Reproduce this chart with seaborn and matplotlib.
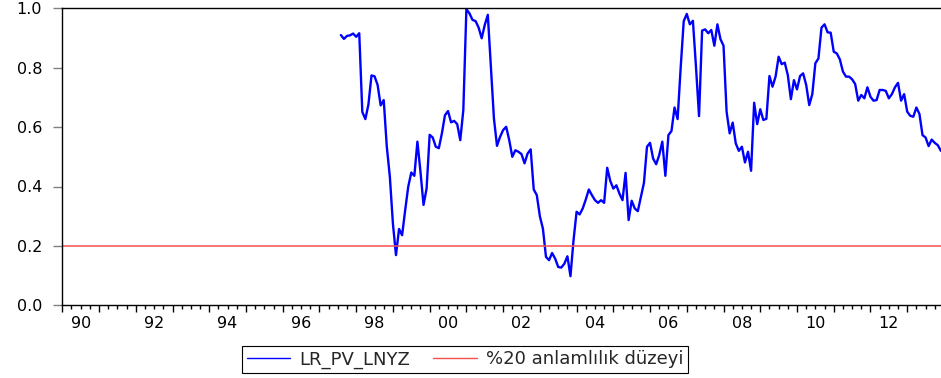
import numpy as np
import pandas as pd
import matplotlib
matplotlib.use("Agg")
import matplotlib.pyplot as plt
import seaborn as sns

# ---- data (monthly, first observation 1997M08) ----
start_year = 1997
start_month = 8
lr_pv_lnyz = [
    0.910, 0.897, 0.907, 0.909, 0.915, 0.904, 0.916,
    0.651, 0.627, 0.676, 0.774, 0.771, 0.742, 0.673, 0.691,
    0.534, 0.433, 0.275, 0.169, 0.257, 0.236, 0.320, 0.399,
    0.447, 0.436, 0.551, 0.450, 0.338, 0.393, 0.574, 0.565,
    0.534, 0.529, 0.579, 0.640, 0.654, 0.616, 0.621, 0.610,
    0.556, 0.657, 0.997, 0.983, 0.961, 0.957, 0.935, 0.899,
    0.944, 0.978,
    0.803, 0.629, 0.537, 0.567, 0.590, 0.601, 0.556, 0.500,
    0.522, 0.517, 0.509, 0.478, 0.511, 0.525, 0.390, 0.371,
    0.300, 0.258, 0.163, 0.152, 0.176, 0.157, 0.129, 0.127,
    0.140, 0.165, 0.098, 0.219, 0.315, 0.306, 0.326, 0.356,
    0.390, 0.371, 0.354, 0.345, 0.354, 0.345, 0.463, 0.419,
    0.393, 0.404, 0.376, 0.354, 0.446, 0.287, 0.352, 0.326,
    0.317, 0.365, 0.412, 0.534, 0.547, 0.494, 0.475, 0.506,
    0.551, 0.436, 0.573, 0.587, 0.666, 0.627, 0.800, 0.957,
    0.981, 0.946, 0.958, 0.803, 0.637, 0.925, 0.929, 0.916,
    0.927, 0.874, 0.946, 0.896, 0.874, 0.652, 0.579, 0.615,
    0.545, 0.520, 0.534, 0.481, 0.517, 0.453, 0.682, 0.610,
    0.660, 0.624, 0.628, 0.772, 0.736, 0.770, 0.837, 0.812,
    0.817, 0.775, 0.694, 0.758, 0.727, 0.772, 0.781, 0.742,
    0.674, 0.711, 0.815, 0.831, 0.935, 0.946, 0.919, 0.918,
    0.854, 0.848, 0.828, 0.787, 0.770, 0.770, 0.761, 0.745,
    0.689, 0.708, 0.697, 0.734, 0.702, 0.689, 0.691, 0.725,
    0.725, 0.722, 0.697, 0.711, 0.734, 0.749, 0.689, 0.711,
    0.652, 0.638, 0.635, 0.666, 0.644, 0.573, 0.565, 0.536,
    0.558, 0.547, 0.539, 0.520,
]
threshold = 0.2
series_labels = ["LR_PV_LNYZ", "%20 anlamlılık düzeyi"]
x_min_year, x_max_year = 1990, 2013.92
label_years = list(range(1990, 2013, 2))
tick_labels = [f"{y % 100:02d}" for y in label_years]
y_ticks = [0.0, 0.2, 0.4, 0.6, 0.8, 1.0]

# ---- frame ----
dates = pd.date_range(f"{start_year}-{start_month:02d}-01", periods=len(lr_pv_lnyz), freq="MS")
t = dates.year + (dates.month - 1) / 12.0
df = pd.DataFrame({"t": t, "v": lr_pv_lnyz})

sns.set_style("ticks")
plt.rcParams["font.family"] = ["DejaVu Sans"]

W, H = 941, 378
fig = plt.figure(figsize=(W / 100, H / 100), dpi=100)
left, right, top, bottom = 62.3, 941.0, 8.3, 305.3
ax = fig.add_axes([left / W, 1 - bottom / H, (right - left) / W, (bottom - top) / H])

sns.lineplot(data=df, x="t", y="v", color="#0000ff", lw=1.7, ax=ax,
             label=series_labels[0])
ax.axhline(threshold, color="#f55050", lw=1.1, label=series_labels[1])

ax.set_xlim(x_min_year, x_max_year)
ax.set_ylim(0, 1.0)
ax.set_xlabel("")
ax.set_ylabel("")

for s in ["top", "left", "bottom"]:
    ax.spines[s].set_color("black")
    ax.spines[s].set_linewidth(1.0)
ax.spines["right"].set_visible(False)

# y ticks
ax.set_yticks(y_ticks)
ax.set_yticklabels([f"{v:.1f}" for v in y_ticks])
ax.tick_params(axis="y", direction="out", length=6.5, width=1.0, color="#808080",
               pad=8, labelsize=11.5, labelcolor="black")

# x labels at mid-year, no marks
ax.set_xticks([y + 0.5 for y in label_years])
ax.set_xticklabels(tick_labels)
ax.tick_params(axis="x", length=0, pad=8, labelsize=11.5, labelcolor="black")

# tick marks: years (major) and quarters (minor)
sec = ax.secondary_xaxis("bottom")
sec.set_xticks(list(range(1990, 2014)))
sec.set_xticklabels([])
sec.set_xticks(np.arange(1990, 2014, 0.25), minor=True)
sec.tick_params(axis="x", which="major", direction="out", length=5, width=1.0, color="black")
sec.tick_params(axis="x", which="minor", direction="out", length=3, width=1.0, color="black")
sec.spines["bottom"].set_visible(False)

handles, labels = ax.get_legend_handles_labels()
if ax.get_legend() is not None:
    ax.get_legend().remove()
leg = fig.legend(handles, labels, loc="center", bbox_to_anchor=(465 / W, 1 - 359.4 / H),
                 ncol=2, frameon=True, fancybox=False, edgecolor="black",
                 handlelength=2.4, handletextpad=0.5, columnspacing=1.3,
                 borderpad=0.25, fontsize=13)
leg.get_frame().set_linewidth(0.8)
leg.get_frame().set_alpha(1.0)
for ln in leg.get_lines():
    ln.set_linewidth(1.0)

fig.savefig("out.png", dpi=100)
